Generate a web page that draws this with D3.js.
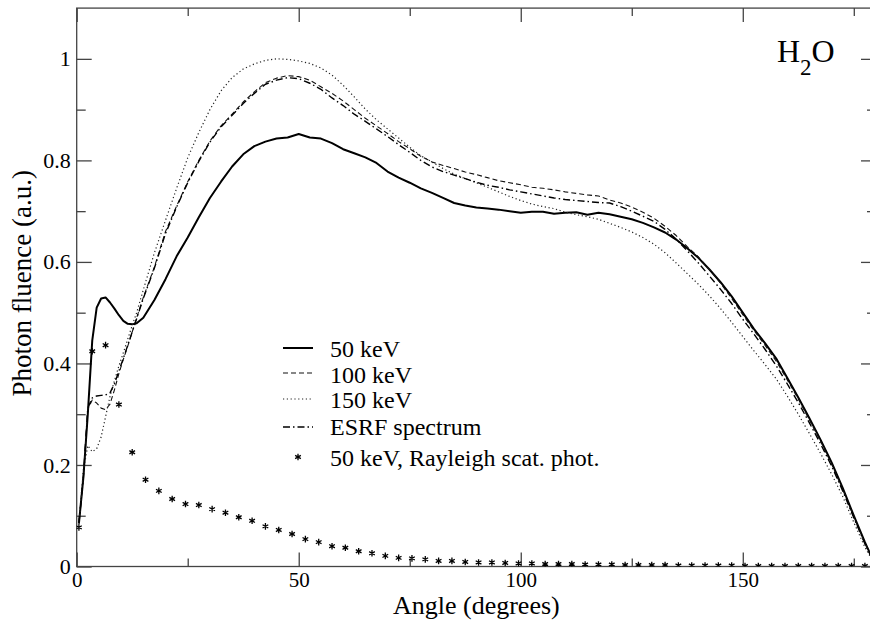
<!DOCTYPE html>
<html>
<head>
<meta charset="utf-8">
<script src="https://cdn.jsdelivr.net/npm/d3@7"></script>
<style>
  html, body { margin: 0; padding: 0; background: #fff; }
  svg { display: block; }
</style>
</head>
<body>
<svg id="chart" width="870" height="620" style="font-family: 'Liberation Serif'"></svg>
<script>
// ---- data ----
const angles = [0.5,1.5,2.5,3.5,4.5,5.5,6.5,7.5,8.5,9.5,10.5,11.5,12.5,13.5,15,17.5,20,22.5,25,27.5,30,32.5,35,37.5,40,42.5,45,47.5,50,52.5,55,57.5,60,62.5,65,67.5,70,72.5,75,77.5,80,82.5,85,87.5,90,92.5,95,97.5,100,102.5,105,107.5,110,112.5,115,117.5,120,122.5,125,127.5,130,132.5,135,137.5,140,142.5,145,147.5,150,152.5,155,157.5,160,162.5,165,167.5,170,172.5,175,177.5,180];

const kev50 = [0.085,0.175,0.300,0.445,0.510,0.528,0.530,0.520,0.508,0.495,0.484,0.478,0.477,0.479,0.490,0.525,0.566,0.611,0.648,0.688,0.726,0.758,0.788,0.812,0.828,0.837,0.843,0.845,0.852,0.845,0.843,0.834,0.822,0.814,0.806,0.795,0.778,0.766,0.756,0.745,0.736,0.726,0.716,0.711,0.707,0.705,0.703,0.700,0.697,0.699,0.699,0.695,0.697,0.698,0.693,0.697,0.694,0.689,0.684,0.677,0.668,0.658,0.644,0.627,0.608,0.585,0.560,0.532,0.500,0.468,0.440,0.410,0.372,0.333,0.292,0.250,0.205,0.155,0.100,0.048,0.000];

const kev100 = [0.085,0.175,0.310,0.328,0.322,0.312,0.309,0.320,0.348,0.380,0.408,0.434,0.462,0.490,0.530,0.590,0.660,0.710,0.758,0.800,0.838,0.868,0.891,0.915,0.935,0.953,0.962,0.967,0.965,0.958,0.945,0.932,0.917,0.900,0.883,0.868,0.853,0.837,0.823,0.808,0.797,0.790,0.784,0.777,0.772,0.766,0.760,0.756,0.752,0.747,0.745,0.742,0.738,0.735,0.732,0.730,0.722,0.716,0.708,0.698,0.686,0.670,0.652,0.630,0.610,0.585,0.558,0.528,0.496,0.465,0.436,0.405,0.368,0.330,0.289,0.247,0.202,0.152,0.098,0.046,0.000];

const kev150 = [0.085,0.190,0.238,0.226,0.232,0.255,0.295,0.335,0.366,0.395,0.421,0.448,0.475,0.500,0.545,0.618,0.682,0.745,0.805,0.855,0.900,0.937,0.963,0.980,0.990,0.997,1.000,0.999,0.996,0.991,0.982,0.968,0.948,0.925,0.901,0.880,0.862,0.844,0.826,0.809,0.797,0.784,0.773,0.764,0.756,0.747,0.738,0.729,0.721,0.714,0.709,0.705,0.698,0.693,0.689,0.684,0.676,0.668,0.659,0.648,0.635,0.618,0.598,0.577,0.556,0.533,0.508,0.481,0.453,0.425,0.398,0.370,0.336,0.300,0.262,0.223,0.182,0.138,0.087,0.038,0.000];

const esrf = [0.085,0.175,0.312,0.332,0.336,0.337,0.338,0.342,0.360,0.385,0.410,0.436,0.462,0.488,0.528,0.588,0.656,0.708,0.756,0.798,0.836,0.866,0.889,0.912,0.932,0.950,0.958,0.963,0.961,0.952,0.940,0.923,0.908,0.891,0.877,0.862,0.847,0.831,0.816,0.800,0.787,0.778,0.771,0.764,0.757,0.751,0.747,0.742,0.738,0.734,0.730,0.726,0.723,0.721,0.719,0.717,0.716,0.709,0.700,0.690,0.680,0.664,0.645,0.622,0.598,0.572,0.546,0.518,0.487,0.458,0.428,0.396,0.360,0.323,0.283,0.242,0.198,0.149,0.096,0.045,0.000];

const rayleighAngles = [0.5,3.5,6.5,9.5,12.5,15.5,18.5,21.5,24.5,27.5,30.5,33.5,36.5,39.5,42.5,45.5,48.5,51.5,54.5,57.5,60.5,63.5,66.5,69.5,72.5,75.5,78.5,81.5,84.5,87.5,90.5,93.5,96.5,99.5,102.5,105.5,108.5,111.5,114.5,117.5,120.5,123.5,126.5,129.5,132.5,135.5,138.5,141.5,144.5,147.5,150.5,153.5,156.5,159.5,162.5,165.5,168.5,171.5,174.5,177.5];
const rayleigh = [0.077,0.424,0.436,0.319,0.225,0.171,0.149,0.133,0.123,0.121,0.113,0.106,0.097,0.090,0.079,0.072,0.064,0.054,0.048,0.040,0.037,0.030,0.026,0.021,0.017,0.016,0.014,0.011,0.011,0.009,0.008,0.008,0.007,0.006,0.006,0.005,0.005,0.005,0.004,0.004,0.004,0.003,0.003,0.003,0.003,0.002,0.002,0.002,0.002,0.002,0.001,0.001,0.001,0.001,0.001,0.001,0.001,0.001,0.001,0.001];

const seriesNames = ["50 keV", "100 keV", "150 keV", "ESRF spectrum", "50 keV, Rayleigh scat. phot."];
const xMajorTicks = [0, 50, 100, 150];
const xMinorTicks = [25, 75, 125, 175];
const yMajorTicks = [0, 0.2, 0.4, 0.6, 0.8, 1.0];
const yMinorTicks = [0.1, 0.3, 0.5, 0.7, 0.9];
const xTitle = "Angle (degrees)";
const yTitle = "Photon fluence (a.u.)";

(function () {
  const FONT = "'Liberation Serif'";
  const svg = d3.select("#chart");
  const mL = 76.7, mR = 876, mT = 8.1, mB = 566.5;
  const x = d3.scaleLinear().domain([0, 180]).range([mL, mR]);
  const y = d3.scaleLinear().domain([0, 1.1]).range([mB, mT]);
  const axisColor = "#444";

  function txt(sel, size) {
    return sel.style("font-family", FONT).style("font-size", size + "px").attr("fill", "#000");
  }

  svg.append("rect").attr("x", mL).attr("y", mT)
    .attr("width", mR - mL).attr("height", mB - mT)
    .attr("fill", "none").attr("stroke", axisColor).attr("stroke-width", 1.3);

  function styleAxis(g, fs) {
    g.select(".domain").remove();
    g.attr("font-family", null).attr("font-size", null).style("font-family", FONT);
    g.selectAll(".tick line").attr("stroke", axisColor).attr("stroke-width", 1.3);
    txt(g.selectAll("text"), fs);
  }
  svg.append("g").attr("transform", `translate(0,${mB})`)
    .call(d3.axisBottom(x).tickValues(xMajorTicks).tickSize(-14).tickPadding(6).tickFormat(d3.format("d")))
    .call(g => styleAxis(g, 21));
  svg.append("g").attr("transform", `translate(0,${mB})`)
    .call(d3.axisBottom(x).tickValues(xMinorTicks).tickSize(-8).tickFormat(""))
    .call(g => styleAxis(g, 21));
  svg.append("g").attr("transform", `translate(0,${mT})`)
    .call(d3.axisTop(x).tickValues(xMajorTicks).tickSize(-14).tickFormat(""))
    .call(g => styleAxis(g, 21));
  svg.append("g").attr("transform", `translate(0,${mT})`)
    .call(d3.axisTop(x).tickValues(xMinorTicks).tickSize(-8).tickFormat(""))
    .call(g => styleAxis(g, 21));
  svg.append("g").attr("transform", `translate(${mL},0)`)
    .call(d3.axisLeft(y).tickValues(yMajorTicks).tickSize(-15).tickPadding(6)
      .tickFormat(d => d === 0 ? "0" : (d === 1 ? "1" : d3.format(".1f")(d))))
    .call(g => styleAxis(g, 22));
  svg.append("g").attr("transform", `translate(${mL},0)`)
    .call(d3.axisLeft(y).tickValues(yMinorTicks).tickSize(-9).tickFormat(""))
    .call(g => styleAxis(g, 21));
  svg.append("g").attr("transform", `translate(${mR},0)`)
    .call(d3.axisRight(y).tickValues(yMajorTicks).tickSize(-15).tickFormat(""))
    .call(g => styleAxis(g, 21));
  svg.append("g").attr("transform", `translate(${mR},0)`)
    .call(d3.axisRight(y).tickValues(yMinorTicks).tickSize(-9).tickFormat(""))
    .call(g => styleAxis(g, 21));

  txt(svg.append("text").attr("x", (mL + mR) / 2).attr("y", 614)
    .attr("text-anchor", "middle"), 26).text(xTitle);
  txt(svg.append("text").attr("transform", `translate(31,${(mT + mB) / 2 - 4}) rotate(-90)`)
    .attr("text-anchor", "middle"), 27).text(yTitle);

  svg.append("clipPath").attr("id", "plotclip").append("rect")
    .attr("x", mL).attr("y", mT).attr("width", mR - mL).attr("height", mB - mT);
  const line = d3.line().x((d, i) => x(angles[i])).y(d => y(d));
  const styles = [
    { data: kev50, width: 2.0, dash: null, color: "#000" },
    { data: kev100, width: 1.1, dash: "5,3", color: "#111" },
    { data: kev150, width: 1.2, dash: "1.2,2.6", color: "#222" },
    { data: esrf, width: 1.4, dash: "7,3,1.5,3", color: "#000" }
  ];
  const plot = svg.append("g").attr("clip-path", "url(#plotclip)");
  styles.forEach(s => {
    plot.append("path").datum(s.data).attr("d", line)
      .attr("fill", "none").attr("stroke", s.color).attr("stroke-width", s.width)
      .attr("stroke-dasharray", s.dash).attr("stroke-linejoin", "round");
  });
  const star = d3.symbol().type(d3.symbolAsterisk).size(30);
  plot.selectAll("path.star").data(rayleigh).join("path").attr("class", "star")
    .attr("transform", (d, i) => `translate(${x(rayleighAngles[i])},${y(d)})`)
    .attr("d", star).attr("fill", "none").attr("stroke", "#000").attr("stroke-width", 1.3);

  const legX1 = 283, legX2 = 313, legTextX = 330;
  const legRows = [
    { name: seriesNames[0], lineY: 348, textY: 357, s: styles[0] },
    { name: seriesNames[1], lineY: 373, textY: 383, s: styles[1] },
    { name: seriesNames[2], lineY: 399, textY: 408, s: styles[2] },
    { name: seriesNames[3], lineY: 427, textY: 435, s: styles[3] },
    { name: seriesNames[4], lineY: 457, textY: 466, s: null }
  ];
  legRows.forEach(r => {
    if (r.s) {
      svg.append("line").attr("x1", legX1).attr("x2", legX2).attr("y1", r.lineY).attr("y2", r.lineY)
        .attr("stroke", r.s.color).attr("stroke-width", r.s.width).attr("stroke-dasharray", r.s.dash);
    } else {
      svg.append("path").attr("transform", `translate(${(legX1 + legX2) / 2},${r.lineY})`)
        .attr("d", star).attr("fill", "none").attr("stroke", "#000").attr("stroke-width", 1.3);
    }
    txt(svg.append("text").attr("x", legTextX).attr("y", r.textY), 24)
      .attr("textLength", null).text(r.name);
  });

  const lab = txt(svg.append("text").attr("x", 777).attr("y", 62), 32);
  lab.append("tspan").text("H");
  lab.append("tspan").style("font-size", "23px").attr("dy", 13).text("2");
  lab.append("tspan").attr("dy", -13).text("O");
})();
</script>
</body>
</html>
